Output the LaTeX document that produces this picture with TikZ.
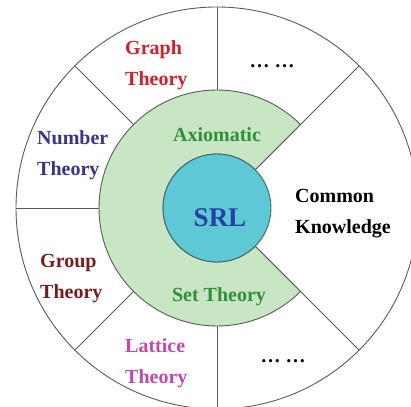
\documentclass[tikz,border=0pt]{standalone}
\usepackage{fontspec}
\setmainfont{Liberation Serif}
\definecolor{rimgrey}{HTML}{5A5A5A}
\definecolor{axiomfill}{HTML}{C8E6C4}
\definecolor{srlfill}{HTML}{5EC8D4}
\definecolor{srlblue}{HTML}{2342A6}
\definecolor{axiomgreen}{HTML}{2F8F3A}
\definecolor{graphred}{HTML}{D0202A}
\definecolor{numberblue}{HTML}{35358A}
\definecolor{groupred}{HTML}{7B1A1F}
\definecolor{latticepink}{HTML}{C448A8}
\newcommand{\fieldfont}{\fontsize{20}{31}\selectfont\bfseries}
\newcommand{\srlfont}{\fontsize{27}{30}\selectfont\bfseries}
\newcommand{\rOuter}{201}
\newcommand{\rAxiom}{118}
\newcommand{\rSrl}{54}

\begin{document}
\begin{tikzpicture}[x=1pt,y=1pt,
  field/.style={inner sep=0pt,align=left,anchor=base west,font=\fieldfont},
  rim/.style={draw=rimgrey,line width=0.9pt}]
  \useasboundingbox (0,0) rectangle (411,406);
  \clip (0,0) rectangle (411,406);
  \coordinate (c) at (217,198);

  % outer ring and dividers
  \draw[rim] (c) circle[radius=\rOuter];
  \foreach \a in {90,135,180,225,270}{%
    \draw[rim] ([shift={(c)}]\a:\rAxiom) -- ([shift={(c)}]\a:\rOuter);
  }
  \foreach \a in {45,-45}{%
    \draw[rim] ([shift={(c)}]\a:\rSrl) -- ([shift={(c)}]\a:\rOuter);
  }

  % axiomatic set theory wedge
  \draw[rim,fill=axiomfill] ([shift={(c)}]45:\rAxiom)
    arc[start angle=45,end angle=315,radius=\rAxiom]
    -- ([shift={(c)}]-45:\rSrl)
    arc[start angle=-45,end angle=-315,radius=\rSrl] -- cycle;

  % core
  \draw[draw=rimgrey!60!teal,line width=0.9pt,fill=srlfill] (c) circle[radius=\rSrl];
  \node (srl) [inner sep=0pt,anchor=base,text=srlblue,font=\srlfont] at (220,179) {SRL};

  \node (axiom) [inner sep=0pt,anchor=base,text=axiomgreen,font=\fieldfont] at (217,264) {Axiomatic};
  \node (settheory) [inner sep=0pt,anchor=base,text=axiomgreen,font=\fieldfont] at (219,104) {Set Theory};

  % base anchor sits on the last line
  \node (graph) [field,text=graphred] at (125,320) {Graph\\Theory};
  \node (number) [field,text=numberblue] at (37,230) {Number\\Theory};
  \node (group) [field,text=groupred] at (40,107) {Group\\Theory};
  \node (lattice) [field,text=latticepink] at (125,23) {Lattice\\Theory};
  \node (common) [field] at (295,172) {Common\\Knowledge};

  \node (moretop) [inner sep=0pt,anchor=base,font=\fieldfont] at (272,338) {… …};
  \node (morebot) [inner sep=0pt,anchor=base,font=\fieldfont] at (283,44) {… …};
\end{tikzpicture}
\end{document}
